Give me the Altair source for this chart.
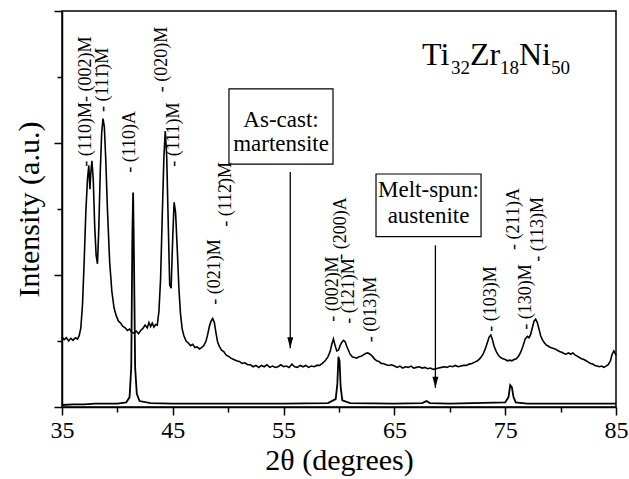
import altair as alt
import pandas as pd

# ---------------- data ----------------
# As-cast (martensite) pattern: (2theta in degrees, intensity in a.u.)
cast_points = [
    (35.0, 1.06), (35.2, 1.02), (35.4, 1.05), (35.6, 1.00), (35.8, 1.04), (36.0, 1.01),
    (36.2, 1.05), (36.4, 1.03), (36.55, 1.08), (36.7, 1.20), (36.85, 1.55), (37.0, 2.20),
    (37.15, 2.95), (37.3, 3.45), (37.42, 3.66), (37.52, 3.30), (37.6, 3.55), (37.7, 3.73),
    (37.82, 3.45), (37.95, 2.75), (38.08, 2.30), (38.2, 2.17), (38.32, 2.70), (38.45, 3.55),
    (38.58, 4.15), (38.7, 4.37), (38.82, 4.25), (38.95, 3.75), (39.1, 3.00), (39.3, 2.20),
    (39.5, 1.75), (39.7, 1.50), (39.9, 1.38), (40.1, 1.30), (40.3, 1.27), (40.5, 1.22),
    (40.7, 1.20), (40.9, 1.16), (41.1, 1.18), (41.3, 1.13), (41.5, 1.12), (41.7, 1.15),
    (41.9, 1.11), (42.1, 1.16), (42.3, 1.19), (42.5, 1.24), (42.7, 1.20), (42.85, 1.28),
    (43.0, 1.22), (43.15, 1.27), (43.3, 1.21), (43.45, 1.25), (43.6, 1.24), (43.75, 1.45),
    (43.9, 1.95), (44.05, 2.90), (44.2, 3.80), (44.32, 4.18), (44.45, 3.80), (44.6, 2.70),
    (44.72, 1.85), (44.85, 1.80), (45.0, 2.60), (45.12, 3.10), (45.25, 2.95), (45.4, 2.40),
    (45.55, 1.80), (45.7, 1.40), (45.85, 1.18), (46.0, 1.08), (46.2, 1.00), (46.4, 0.97),
    (46.6, 0.93), (46.8, 0.95), (47.0, 0.90), (47.2, 0.91), (47.4, 0.88), (47.6, 0.90),
    (47.8, 0.93), (48.0, 1.00), (48.15, 1.10), (48.3, 1.22), (48.45, 1.30), (48.6, 1.34),
    (48.75, 1.28), (48.9, 1.12), (49.05, 0.98), (49.2, 0.92), (49.4, 0.86), (49.6, 0.84),
    (49.8, 0.79), (50.0, 0.77), (50.25, 0.74), (50.5, 0.72), (50.75, 0.70), (51.0, 0.69),
    (51.25, 0.66), (51.5, 0.67), (51.75, 0.64), (52.0, 0.64), (52.25, 0.61), (52.5, 0.63),
    (52.75, 0.60), (53.0, 0.63), (53.25, 0.61), (53.5, 0.64), (53.75, 0.60), (54.0, 0.62),
    (54.25, 0.60), (54.5, 0.61), (54.75, 0.64), (55.0, 0.61), (55.25, 0.62), (55.5, 0.60),
    (55.75, 0.65), (56.0, 0.61), (56.25, 0.60), (56.5, 0.63), (56.75, 0.61), (57.0, 0.63),
    (57.25, 0.60), (57.5, 0.62), (57.75, 0.61), (58.0, 0.63), (58.25, 0.63), (58.5, 0.66),
    (58.75, 0.70), (59.0, 0.76), (59.2, 0.84), (59.35, 0.95), (59.5, 1.03), (59.65, 0.93),
    (59.8, 0.85), (59.95, 0.86), (60.1, 0.93), (60.25, 0.98), (60.4, 1.01), (60.55, 0.99),
    (60.7, 0.92), (60.85, 0.86), (61.0, 0.80), (61.2, 0.76), (61.4, 0.75), (61.6, 0.74),
    (61.8, 0.76), (62.0, 0.77), (62.2, 0.79), (62.4, 0.81), (62.6, 0.82), (62.8, 0.80),
    (63.0, 0.77), (63.2, 0.73), (63.4, 0.70), (63.6, 0.69), (63.8, 0.66), (64.0, 0.66),
    (64.25, 0.64), (64.5, 0.63), (64.75, 0.64), (65.0, 0.62), (65.25, 0.60), (65.5, 0.62),
    (65.75, 0.59), (66.0, 0.61), (66.25, 0.60), (66.5, 0.62), (66.75, 0.59), (67.0, 0.60),
    (67.25, 0.61), (67.5, 0.59), (67.75, 0.60), (68.0, 0.58), (68.25, 0.59), (68.5, 0.57),
    (68.75, 0.58), (69.0, 0.59), (69.25, 0.60), (69.5, 0.61), (69.75, 0.60), (70.0, 0.62),
    (70.25, 0.61), (70.5, 0.63), (70.75, 0.61), (71.0, 0.62), (71.25, 0.63), (71.5, 0.63),
    (71.75, 0.65), (72.0, 0.66), (72.25, 0.68), (72.5, 0.70), (72.75, 0.74), (73.0, 0.80),
    (73.2, 0.88), (73.4, 0.98), (73.55, 1.06), (73.7, 1.09), (73.85, 1.02), (74.0, 0.92),
    (74.2, 0.84), (74.4, 0.78), (74.6, 0.75), (74.8, 0.73), (75.0, 0.72), (75.2, 0.70),
    (75.4, 0.71), (75.6, 0.70), (75.8, 0.72), (76.0, 0.73), (76.2, 0.77), (76.4, 0.83),
    (76.6, 0.92), (76.8, 1.03), (77.0, 1.07), (77.15, 1.05), (77.3, 1.10), (77.45, 1.20),
    (77.6, 1.30), (77.75, 1.33), (77.9, 1.28), (78.05, 1.18), (78.2, 1.08), (78.35, 1.02),
    (78.5, 0.98), (78.7, 0.94), (78.9, 0.92), (79.1, 0.90), (79.3, 0.89), (79.5, 0.88),
    (79.7, 0.86), (79.9, 0.84), (80.1, 0.83), (80.3, 0.81), (80.5, 0.80), (80.7, 0.82),
    (80.9, 0.80), (81.1, 0.82), (81.3, 0.79), (81.5, 0.77), (81.7, 0.75), (81.9, 0.73),
    (82.1, 0.72), (82.3, 0.70), (82.5, 0.68), (82.7, 0.66), (82.9, 0.65), (83.1, 0.63),
    (83.3, 0.62), (83.5, 0.61), (83.7, 0.62), (83.9, 0.60), (84.1, 0.62), (84.3, 0.64),
    (84.5, 0.70), (84.65, 0.80), (84.8, 0.85), (84.9, 0.82), (85.0, 0.78),
]

# Melt-spun (austenite) pattern
spun_points = [
    (35.0, 0.03), (36.0, 0.04), (37.0, 0.04), (38.0, 0.05), (39.0, 0.05), (40.0, 0.05),
    (40.8, 0.07), (41.1, 0.15), (41.25, 0.60), (41.35, 2.60), (41.42, 3.25), (41.5, 2.20),
    (41.6, 0.60), (41.75, 0.20), (42.0, 0.09), (43.0, 0.06), (45.0, 0.05), (50.0, 0.05),
    (55.0, 0.05), (59.0, 0.06), (59.7, 0.12), (59.85, 0.35), (59.95, 0.76), (60.05, 0.70),
    (60.15, 0.30), (60.3, 0.10), (61.0, 0.06), (65.0, 0.05), (67.5, 0.06), (67.9, 0.09),
    (68.2, 0.06), (70.0, 0.05), (75.0, 0.07), (75.3, 0.15), (75.45, 0.33), (75.6, 0.30),
    (75.75, 0.15), (75.95, 0.07), (77.0, 0.05), (80.0, 0.05), (85.0, 0.05),
]

# Reflection labels: text, 2theta, intensity where the label starts
peak_labels = ["- (110)M- (002)M", "- (111\u0304)M", "- (110)A", "- (020)M", "- (111)M",
               "- (021)M", "- (112\u0304)M", "- (002)M", "- (121)M", "- (200)A", "- (013)M",
               "- (103)M", "- (130)M", "- (211)A", "- (113)M"]
peak_label_2theta = [37.2, 38.7, 41.1, 44.0, 45.1, 48.8, 49.8, 59.5, 60.9, 60.2, 62.9,
                     73.7, 76.9, 75.8, 78.0]
peak_label_base = [3.64, 4.47, 3.55, 4.77, 3.64, 1.55, 2.73, 1.29, 1.26, 2.23, 0.98,
                   1.14, 1.17, 2.38, 2.20]

# Boxed notes and their arrows
box_left = [50.07, 63.34]
box_right = [59.46, 72.82]
box_top = [4.82, 3.53]
box_bottom = [3.68, 2.58]
box_lines = ["As-cast:", "martensite", "Melt-spun:", "austenite"]
box_line_2theta = [54.77, 54.77, 68.08, 68.08]
box_line_base = [4.24, 3.88, 3.18, 2.79]
arrow_2theta = [55.6, 68.7]
arrow_top = [3.56, 2.45]
arrow_tip = [0.89, 0.29]

# ---------------- chart ----------------
FONT = "Liberation Serif"
W, H = 554, 396

cast_df = pd.DataFrame(cast_points, columns=["t", "v"])
spun_df = pd.DataFrame(spun_points, columns=["t", "v"])
lab_df = pd.DataFrame({"txt": peak_labels, "t": peak_label_2theta, "v": peak_label_base})
box_df = pd.DataFrame({"t": box_left, "t2": box_right, "v": box_top, "v2": box_bottom})
line_df = pd.DataFrame({"txt": box_lines, "t": box_line_2theta, "v": box_line_base})
arr_df = pd.DataFrame({"t": arrow_2theta, "v": arrow_top, "v2": arrow_tip})
head_df = pd.DataFrame({"t": arrow_2theta, "v": arrow_tip})

xscale = alt.Scale(domain=[35, 85], nice=False, zero=False)
yscale = alt.Scale(domain=[0, 6], nice=False, zero=False)

xaxis = alt.Axis(
    values=list(range(35, 86, 5)),
    labelExpr="datum.value % 10 == 5 ? datum.label : ''",
    tickSize={"condition": {"test": "datum.value % 10 == 5", "value": 8}, "value": 5},
    tickWidth=1.5, domainWidth=1.5, tickColor="black", domainColor="black",
    labelFont=FONT, labelFontSize=24, labelColor="black", labelPadding=3,
    labelOverlap=False, labelFlush=False, grid=False,
    title="2\u03b8 (degrees)", titleFont=FONT, titleFontSize=30, titleFontWeight="normal",
    titleColor="black", titlePadding=3,
)
yaxis = alt.Axis(
    values=[0, 1, 2, 3, 4, 5, 6], labels=False,
    tickSize={"condition": {"test": "datum.value % 2 == 0", "value": 8}, "value": 5},
    tickWidth=1.5, domainWidth=1.5, tickColor="black", domainColor="black", grid=False,
    title="Intensity (a.u.)", titleFont=FONT, titleFontSize=30, titleFontWeight="normal",
    titleColor="black", titlePadding=9,
)

cast = alt.Chart(cast_df).mark_line(color="black", strokeWidth=1.6).encode(
    x=alt.X("t:Q", scale=xscale, axis=xaxis),
    y=alt.Y("v:Q", scale=yscale, axis=yaxis),
)
spun = alt.Chart(spun_df).mark_line(color="black", strokeWidth=1.8).encode(
    x=alt.X("t:Q", scale=xscale), y=alt.Y("v:Q", scale=yscale))

labels = alt.Chart(lab_df).mark_text(
    angle=270, align="left", baseline="middle", font=FONT, fontSize=18, color="black"
).encode(x=alt.X("t:Q", scale=xscale), y=alt.Y("v:Q", scale=yscale), text="txt:N")

boxes = alt.Chart(box_df).mark_rect(fill="white", stroke="black", strokeWidth=1.2).encode(
    x=alt.X("t:Q", scale=xscale), x2="t2:Q", y=alt.Y("v:Q", scale=yscale), y2="v2:Q")

box_text = alt.Chart(line_df).mark_text(
    align="center", baseline="alphabetic", font=FONT, fontSize=23, color="black"
).encode(x=alt.X("t:Q", scale=xscale), y=alt.Y("v:Q", scale=yscale), text="txt:N")

arrows = alt.Chart(arr_df).mark_rule(color="black", strokeWidth=1.3).encode(
    x=alt.X("t:Q", scale=xscale), y=alt.Y("v:Q", scale=yscale), y2="v2:Q")

heads = alt.Chart(head_df).mark_point(
    shape="M-0.27,-1L0.27,-1L0,0Z", size=484, filled=True, color="black", opacity=1,
    strokeWidth=0
).encode(x=alt.X("t:Q", scale=xscale), y=alt.Y("v:Q", scale=yscale))

# Formula Ti32Zr18Ni50 with subscripts (pixel placement inside the plot area)
one = alt.Data(values=[{}])
pieces = []
main_y, sub_y = 54, 63
for txt, px, is_sub in [("Ti", 360, False), ("32", 389, True), ("Zr", 408, False),
                        ("18", 438, True), ("Ni", 457, False), ("50", 489, True)]:
    pieces.append(
        alt.Chart(one).mark_text(
            text=txt, align="left", baseline="alphabetic", font=FONT,
            fontSize=19 if is_sub else 32, color="black"
        ).encode(x=alt.value(px), y=alt.value(sub_y if is_sub else main_y))
    )

chart = alt.layer(cast, spun, arrows, heads, boxes, box_text, labels, *pieces).properties(
    width=W, height=H, background="white",
    padding={"left": 62, "top": 11, "right": 13, "bottom": 72},
    autosize=alt.AutoSizeParams(type="none"),
).configure_view(stroke="black", strokeWidth=1.5)

chart.save("out.html", embed_options={"renderer": "svg", "actions": False})
